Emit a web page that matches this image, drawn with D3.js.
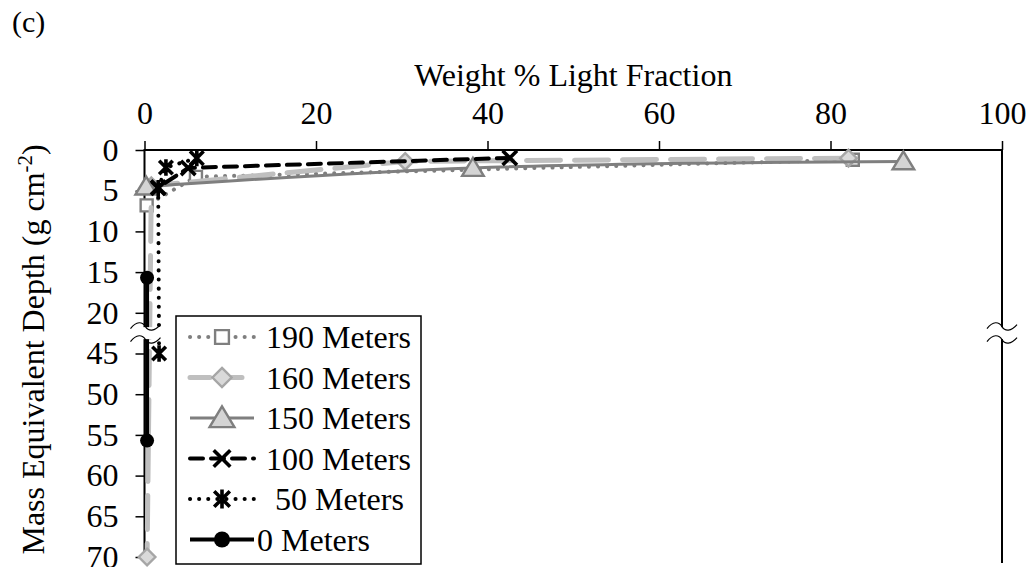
<!DOCTYPE html>
<html>
<head>
<meta charset="utf-8">
<script src="https://cdn.jsdelivr.net/npm/d3@7/dist/d3.min.js"></script>
<style>
  html, body { margin: 0; padding: 0; background: #fff; }
  svg { display: block; font-family: "Liberation Serif", "Times New Roman", serif; }
</style>
</head>
<body>
<svg id="chart" width="1031" height="567"></svg>
<script>
// x = weight % light fraction, y = mass equivalent depth (g cm-2)
const xTicks = [0, 20, 40, 60, 80, 100];
const depthTicks = [0, 5, 10, 15, 20, 45, 50, 55, 60, 65, 70];
const seriesNames = ['190 Meters', '160 Meters', '150 Meters', '100 Meters', '50 Meters', '0 Meters'];

const m190 = [[82.6, 1.2], [6.0, 3.3], [0.25, 6.8]];
const m160 = [[82.1, 1.0], [30.4, 1.4], [0.8, 4.4], [0.3, 70]];
const m150 = [[88.5, 1.4], [38.3, 2.2], [0.2, 4.5]];
const m100 = [[42.6, 0.97], [5.1, 2.2], [1.6, 4.6]];
const m50 = [[6.1, 1.0], [2.5, 2.15], [1.6, 4.7], [1.7, 45]];
const m0 = [[0.3, 15.7], [0.3, 55.7]];

const seriesValues = [m190, m160, m150, m100, m50, m0];

// axis break: 20 -> 45 is collapsed
const breakFrom = 20, breakGap = 20;
const fold = (d) => (d > breakFrom ? d - breakGap : d);

const styles = [
  { stroke: '#7f7f7f', width: 4, dash: '0.1 9', cap: 'round', marker: 'square', mFill: '#fff', mStroke: '#7f7f7f' },
  { stroke: '#bfbfbf', width: 5, dash: '34 14', cap: 'round', marker: 'diamond', mFill: '#d9d9d9', mStroke: '#a6a6a6' },
  { stroke: '#7f7f7f', width: 3, dash: null, cap: 'butt', marker: 'triangle', mFill: '#d4d4d4', mStroke: '#7f7f7f', smooth: true },
  { stroke: '#000', width: 4, dash: '13 8', cap: 'round', marker: 'x', mFill: 'none', mStroke: '#000' },
  { stroke: '#000', width: 4, dash: '0.1 9', cap: 'round', marker: 'asterisk', mFill: 'none', mStroke: '#000' },
  { stroke: '#000', width: 4, dash: null, cap: 'butt', marker: 'circle', mFill: '#000', mStroke: '#000' }
];

const svg = d3.select('#chart');
const fontSize = 32;
const plot = { left: 144.5, right: 1002, top: 150, bottom: 557 };

const x = d3.scaleLinear().domain([0, 100]).range([plot.left, plot.right]);
const y = d3.scaleLinear().domain([0, 50]).range([plot.top, plot.bottom]);

svg.append('text').attr('x', 12).attr('y', 32).attr('font-size', fontSize - 2).text('(c)');

// axes
const xAxis = svg.append('g')
  .attr('transform', `translate(0,${plot.top})`)
  .call(d3.axisTop(x).tickValues(xTicks).tickSize(9).tickPadding(17).tickFormat(d3.format('d')));
const yAxis = svg.append('g')
  .attr('transform', `translate(${plot.left},0)`)
  .call(d3.axisLeft(y).tickValues(depthTicks.map(fold)).tickSize(9).tickPadding(17)
    .tickFormat((d, i) => depthTicks[i]));
[xAxis, yAxis].forEach((g) => {
  g.select('.domain').remove();
  g.selectAll('.tick line').attr('stroke', '#000').attr('stroke-width', 1.5);
  g.selectAll('.tick text').attr('font-size', fontSize).attr('fill', '#000')
    .attr('font-family', '"Liberation Serif", "Times New Roman", serif');
});

// frame (top, left, right)
svg.append('path')
  .attr('d', `M${plot.left},${plot.bottom + 6}V${plot.top}H${plot.right}V${plot.bottom + 6}`)
  .attr('fill', 'none').attr('stroke', '#000').attr('stroke-width', 2);

const seriesLayer = svg.append('g');
const markerPath = (type, s) => {
  switch (type) {
    case 'square': return `M${-s},${-s}h${2 * s}v${2 * s}h${-2 * s}Z`;
    case 'diamond': return `M0,${-s * 1.3}L${s * 1.3},0L0,${s * 1.3}L${-s * 1.3},0Z`;
    case 'triangle': return `M0,${-s * 1.4}L${s * 1.5},${s * 1.1}L${-s * 1.5},${s * 1.1}Z`;
    case 'x': return `M${-s},${-s}L${s},${s}M${s},${-s}L${-s},${s}`;
    case 'asterisk': return `M${-s},${-s}L${s},${s}M${s},${-s}L${-s},${s}M0,${-s * 1.2}V${s * 1.2}`;
    default: return null;
  }
};

const drawMarker = (g, st, cx, cy, k = 1) => {
  if (st.marker === 'circle') {
    g.append('circle').attr('cx', cx).attr('cy', cy).attr('r', 7 * k).attr('fill', st.mFill);
    return;
  }
  const size = { square: 6, diamond: 6.4, triangle: 7.2, x: 7.2, asterisk: 6.8 }[st.marker] * k;
  g.append('path').attr('transform', `translate(${cx},${cy})`)
    .attr('d', markerPath(st.marker, size))
    .attr('fill', st.mFill).attr('stroke', st.mStroke)
    .attr('stroke-width', st.marker === 'x' || st.marker === 'asterisk' ? 3.6 : 2.4);
};

seriesValues.forEach((values, i) => {
  const st = styles[i];
  const g = seriesLayer.append('g');
  const line = d3.line()
    .x((p) => x(p[0]))
    .y((p) => y(fold(p[1])))
    .curve(st.smooth ? d3.curveCatmullRom.alpha(0.5) : d3.curveLinear);
  g.append('path').datum(values).attr('d', line)
    .attr('fill', 'none').attr('stroke', st.stroke).attr('stroke-width', st.width)
    .attr('stroke-dasharray', st.dash).attr('stroke-linecap', st.cap).attr('stroke-linejoin', 'round');
  values.forEach((p) => drawMarker(g, st, x(p[0]), y(fold(p[1]))));
});

// break symbols on both vertical axes
const yBreak = y(breakFrom + 2.5);
const wave = (cx, cy) => `M${cx - 15},${cy + 2}C${cx - 9},${cy - 6} ${cx - 3},${cy - 5} ${cx},${cy}S${cx + 9},${cy + 5} ${cx + 15},${cy - 2}`;
[plot.left + 1, plot.right].forEach((cx) => {
  svg.append('rect').attr('x', cx - 16).attr('y', yBreak - 6).attr('width', 32).attr('height', 12)
    .attr('fill', '#fff');
  [-6.5, 6.5].forEach((dy) => {
    svg.append('path').attr('d', wave(cx, yBreak + dy)).attr('fill', 'none')
      .attr('stroke', '#000').attr('stroke-width', 1.2);
  });
});

// axis titles
svg.append('text')
  .attr('x', (plot.left + plot.right) / 2).attr('y', 86)
  .attr('text-anchor', 'middle').attr('font-size', fontSize)
  .text('Weight % Light Fraction');
const yTitle = svg.append('text')
  .attr('transform', `translate(44,${(plot.top + plot.bottom) / 2 - 4}) rotate(-90)`)
  .attr('text-anchor', 'middle').attr('font-size', fontSize);
yTitle.append('tspan').text('Mass Equivalent Depth (g cm');
yTitle.append('tspan').attr('font-size', fontSize * 0.65).attr('dy', -12).text('-2');
yTitle.append('tspan').attr('dy', 12).text(')');

// legend
const legend = svg.append('g');
legend.append('rect').attr('x', 176).attr('y', 316).attr('width', 245).attr('height', 248)
  .attr('fill', '#fff').attr('stroke', '#000').attr('stroke-width', 1.5);
const labelShift = [0, 0, 0, 0, 9, -9];
seriesNames.forEach((name, i) => {
  const st = styles[i];
  const cy = 337 + i * 40.5;
  const g = legend.append('g');
  g.append('line').attr('x1', 190).attr('x2', 254).attr('y1', cy).attr('y2', cy)
    .attr('stroke', st.stroke).attr('stroke-width', st.width)
    .attr('stroke-dasharray', st.dash ? (st.dash === '34 14' ? '20 12' : st.dash) : null)
    .attr('stroke-linecap', st.cap);
  drawMarker(g, st, 222, cy, 1.15);
  g.append('text').attr('x', 266 + labelShift[i]).attr('y', cy).attr('dy', '0.35em')
    .attr('font-size', fontSize).text(name);
});
</script>
</body>
</html>
